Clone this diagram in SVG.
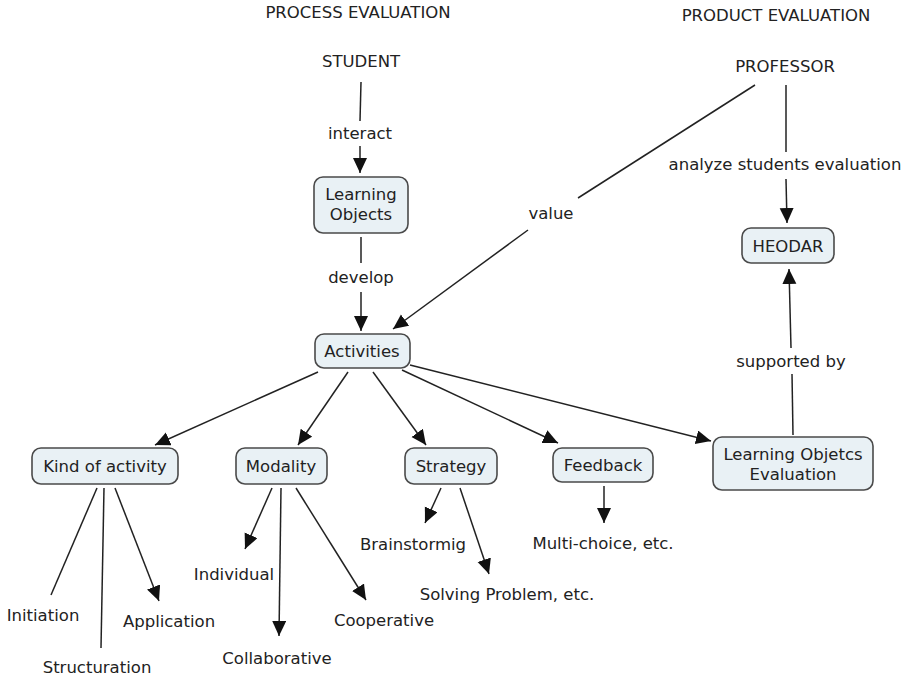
<svg xmlns="http://www.w3.org/2000/svg" width="908" height="678" viewBox="0 0 908 678">
<style>
text{font-family:"DejaVu Sans",Verdana,sans-serif;font-size:16.5px;fill:#222;text-anchor:middle}
.box{fill:#e9f1f5;stroke:#4a4a4a;stroke-width:1.6}
.c line{stroke:#222;stroke-width:1.5}
.c line.a{marker-end:url(#ah)}
</style>
<defs>
<marker id="ah" markerUnits="userSpaceOnUse" markerWidth="18" markerHeight="16" refX="15" refY="7" orient="auto">
<path d="M0,0 L15,7 L0,14 Z" fill="#111"/>
</marker>
</defs>
<rect width="908" height="678" fill="#fff"/>
<g id="titles">
<text x="358" y="18">PROCESS EVALUATION</text>
<text x="776" y="21">PRODUCT EVALUATION</text>
</g>
<g class="c" id="connectors">
<line x1="361" y1="82" x2="360" y2="121"/>
<line class="a" x1="360" y1="146" x2="360" y2="173"/>
<line x1="361" y1="237" x2="361" y2="263"/>
<line class="a" x1="361" y1="292" x2="361" y2="331"/>
<line x1="755" y1="85" x2="578" y2="198"/>
<line class="a" x1="528" y1="230" x2="393" y2="329"/>
<line x1="786" y1="85" x2="786" y2="152"/>
<line class="a" x1="786" y1="179" x2="787" y2="223"/>
<line x1="793" y1="435" x2="792" y2="374"/>
<line class="a" x1="791" y1="348" x2="789" y2="269"/>
<line class="a" x1="410" y1="365" x2="711" y2="441"/>
<line class="a" x1="318" y1="372" x2="155" y2="445"/>
<line class="a" x1="348" y1="372" x2="298" y2="445"/>
<line class="a" x1="373" y1="372" x2="426" y2="445"/>
<line class="a" x1="402" y1="370" x2="558" y2="443"/>
<line x1="97" y1="488" x2="51" y2="595"/>
<line x1="104" y1="488" x2="101" y2="648"/>
<line class="a" x1="115" y1="488" x2="159" y2="601"/>
<line class="a" x1="272" y1="488" x2="245" y2="549"/>
<line class="a" x1="281" y1="488" x2="279" y2="636"/>
<line class="a" x1="296" y1="488" x2="366" y2="600"/>
<line class="a" x1="441" y1="488" x2="425" y2="523"/>
<line class="a" x1="460" y1="488" x2="489" y2="574"/>
<line class="a" x1="604" y1="486" x2="604" y2="523"/>
</g>
<g id="labels">
<text x="360" y="139">interact</text>
<text x="361" y="283">develop</text>
<text x="551" y="219">value</text>
<text x="785" y="170">analyze students evaluation</text>
<text x="791" y="367">supported by</text>
</g>
<g id="student"><text x="361" y="67">STUDENT</text></g>
<g id="professor"><text x="785" y="72">PROFESSOR</text></g>
<g id="learning-objects"><rect class="box" x="314" y="177" width="94" height="56" rx="9"/><text x="361" y="200">Learning</text><text x="361" y="220">Objects</text></g>
<g id="activities"><rect class="box" x="315" y="334" width="95" height="34" rx="9"/><text x="362" y="357">Activities</text></g>
<g id="heodar"><rect class="box" x="742" y="228" width="92" height="35" rx="9"/><text x="788" y="252">HEODAR</text></g>
<g id="lo-evaluation"><rect class="box" x="713" y="437" width="160" height="53" rx="9"/><text x="793" y="460">Learning Objetcs</text><text x="793" y="480">Evaluation</text></g>
<g id="kind"><rect class="box" x="32" y="448" width="146" height="36" rx="9"/><text x="105" y="472">Kind of activity</text></g>
<g id="modality"><rect class="box" x="236" y="448" width="91" height="36" rx="9"/><text x="281" y="472">Modality</text></g>
<g id="strategy"><rect class="box" x="405" y="448" width="92" height="36" rx="9"/><text x="451" y="472">Strategy</text></g>
<g id="feedback"><rect class="box" x="553" y="448" width="100" height="34" rx="9"/><text x="603" y="471">Feedback</text></g>
<g id="initiation"><text x="43" y="621">Initiation</text></g>
<g id="structuration"><text x="97" y="673">Structuration</text></g>
<g id="application"><text x="169" y="627">Application</text></g>
<g id="individual"><text x="234" y="580">Individual</text></g>
<g id="collaborative"><text x="277" y="664">Collaborative</text></g>
<g id="cooperative"><text x="384" y="626">Cooperative</text></g>
<g id="brainstormig"><text x="413" y="550">Brainstormig</text></g>
<g id="solving"><text x="507" y="600">Solving Problem, etc.</text></g>
<g id="multichoice"><text x="603" y="549">Multi-choice, etc.</text></g>
</svg>
